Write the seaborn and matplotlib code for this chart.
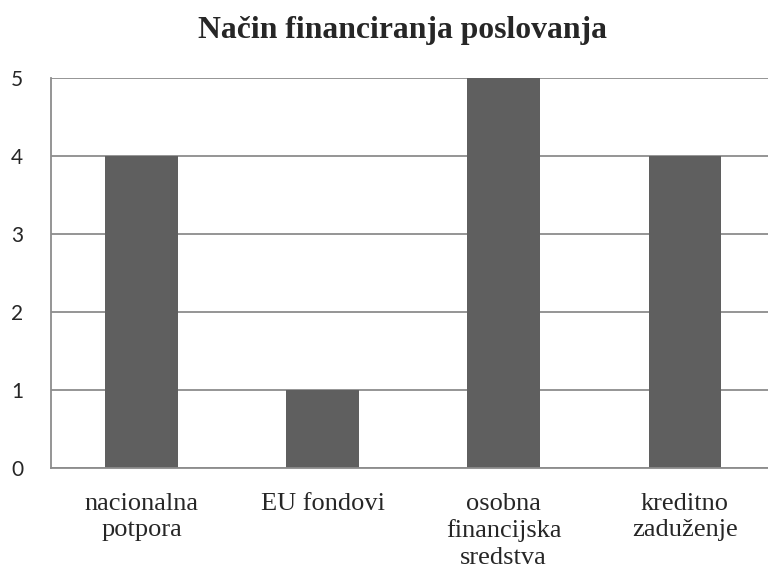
import matplotlib
matplotlib.use("Agg")
import matplotlib.pyplot as plt
import seaborn as sns
import pandas as pd

categories = ["nacionalna\npotpora", "EU fondovi", "osobna\nfinancijska\nsredstva", "kreditno\nzaduženje"]
values = [4, 1, 5, 4]
title = "Način financiranja poslovanja"

df = pd.DataFrame({"kat": categories, "val": values})

sns.set_style("white")
fig = plt.figure(figsize=(7.68, 5.72), dpi=100)
ax = fig.add_axes([51/768, 104/572, 1 - 51/768, 390/572])

sns.barplot(data=df, x="kat", y="val", color="#5f5f5f", width=0.4, ax=ax,
            saturation=1, edgecolor="none")

grid_c = "#8c8c8c"
ax.set_ylim(0, 5)
ax.set_xlim(-0.5, 3.46)
ax.set_yticks([0, 1, 2, 3, 4, 5])
ax.yaxis.grid(True, color=grid_c, linewidth=1.3)
ax.set_axisbelow(True)
for s in ["top", "right"]:
    ax.spines[s].set_visible(False)
for s in ["left", "bottom"]:
    ax.spines[s].set_color(grid_c)
    ax.spines[s].set_linewidth(1.3)

ax.set_xticks([0, 1, 2, 3])
ax.set_xticklabels(categories, fontfamily="Liberation Serif", fontsize=19, linespacing=1.25)
ax.set_xticks([-0.5, 0.5, 1.5, 2.5], minor=True)
ax.tick_params(axis="x", which="major", length=0, pad=18)
ax.tick_params(axis="x", which="minor", length=7, width=1.3, color=grid_c)
ax.tick_params(axis="y", length=7, width=1.3, color=grid_c, pad=13)
for lab in ax.get_yticklabels():
    lab.set_fontfamily("Lato")
    lab.set_fontsize(15)
ax.set_xlabel("")
ax.set_ylabel("")

fig.text(402/768, 1 - 38/572, title, ha="center", va="baseline",
         fontfamily="Liberation Serif", fontweight="bold", fontsize=22.8)

fig.savefig("out.png", dpi=100)
